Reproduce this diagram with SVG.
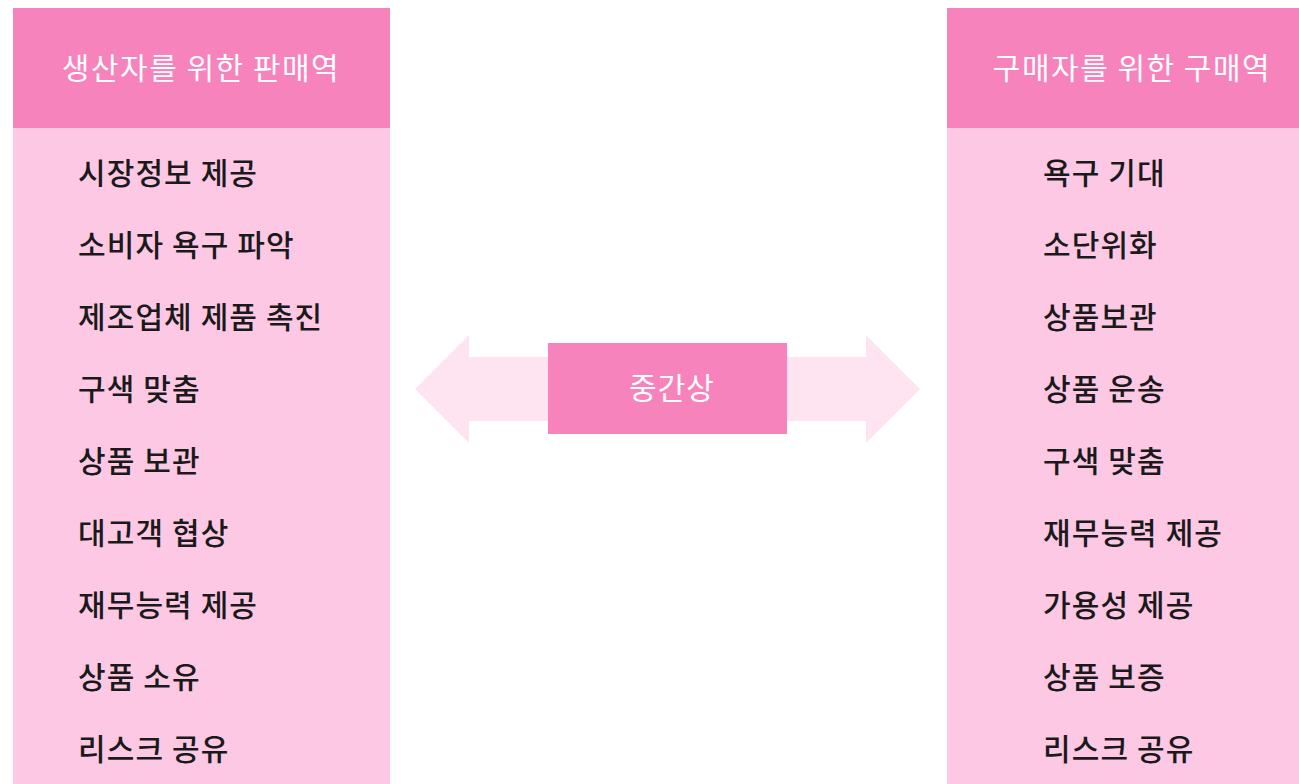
<svg xmlns="http://www.w3.org/2000/svg" width="1299" height="784" viewBox="0 0 1299 784">
<style>
.hdr{fill:#F783BD}
.body{fill:#FDC8E4}
.arrow{fill:#FDE4F0}
.ht{font-family:"Noto Sans CJK KR","Noto Sans",sans-serif;font-size:30px;letter-spacing:1.5px;fill:#ffffff;text-anchor:middle}
.ct{font-family:"Noto Sans CJK KR","Noto Sans",sans-serif;font-size:30px;letter-spacing:1px;fill:#ffffff;text-anchor:middle}
.it{font-family:"Noto Sans CJK KR","Noto Sans",sans-serif;font-size:30px;font-weight:500;letter-spacing:1.1px;fill:#1a1a1a}
</style>
<rect width="1299" height="784" fill="#ffffff"/>
<g id="connectors">
<polygon class="arrow" points="415,389 469,335 469,357 866,357 866,335 920,389 866,443 866,421 469,421 469,443"/>
</g>
<g id="producer">
<rect class="body" x="13" y="128" width="377" height="656"/>
<rect class="hdr" x="13" y="8" width="377" height="120"/>
<text class="ht" x="201" y="79">생산자를 위한 판매역</text>
<text class="it" x="78" y="184">시장정보 제공</text>
<text class="it" x="78" y="256">소비자 욕구 파악</text>
<text class="it" x="78" y="328">제조업체 제품 촉진</text>
<text class="it" x="78" y="400">구색 맞춤</text>
<text class="it" x="78" y="472">상품 보관</text>
<text class="it" x="78" y="544">대고객 협상</text>
<text class="it" x="78" y="616">재무능력 제공</text>
<text class="it" x="78" y="688">상품 소유</text>
<text class="it" x="78" y="760">리스크 공유</text>
</g>
<g id="middleman">
<rect class="hdr" x="548" y="343" width="239" height="91"/>
<text class="ct" x="672" y="399">중간상</text>
</g>
<g id="buyer">
<rect class="body" x="947" y="128" width="352" height="656"/>
<rect class="hdr" x="947" y="8" width="352" height="120"/>
<text class="ht" x="1132" y="79">구매자를 위한 구매역</text>
<text class="it" x="1043" y="184">욕구 기대</text>
<text class="it" x="1043" y="256">소단위화</text>
<text class="it" x="1043" y="328">상품보관</text>
<text class="it" x="1043" y="400">상품 운송</text>
<text class="it" x="1043" y="472">구색 맞춤</text>
<text class="it" x="1043" y="544">재무능력 제공</text>
<text class="it" x="1043" y="616">가용성 제공</text>
<text class="it" x="1043" y="688">상품 보증</text>
<text class="it" x="1043" y="760">리스크 공유</text>
</g>
</svg>
